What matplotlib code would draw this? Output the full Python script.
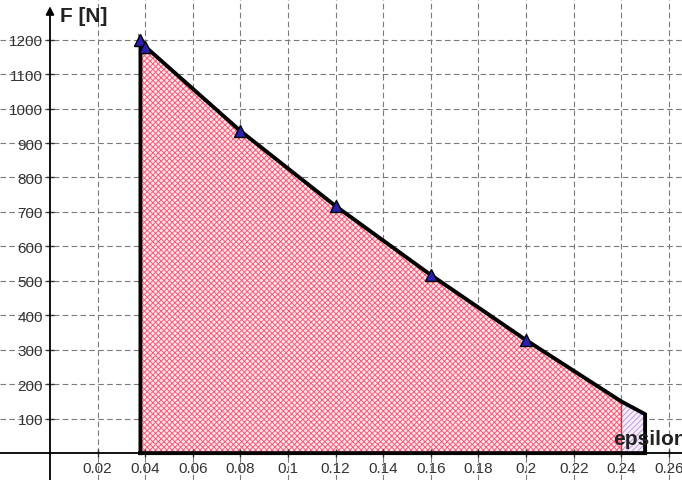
import matplotlib
matplotlib.use("Agg")
import matplotlib.pyplot as plt
import numpy as np

plt.rcParams['font.family'] = ['Liberation Sans', 'DejaVu Sans']
plt.rcParams['hatch.linewidth'] = 0.7

# measured points (strain, force)
eps_pts = [0.038, 0.04, 0.08, 0.12, 0.16, 0.2]
F_pts = [1200, 1180, 935, 717, 517, 328]
# outline curve continues to rupture
eps_curve = [0.038, 0.04, 0.08, 0.12, 0.16, 0.2, 0.24, 0.25]
F_curve = [1200, 1180, 935, 717, 517, 328, 150, 113]
eps_split = 0.24

xticks = [0.02, 0.04, 0.06, 0.08, 0.1, 0.12, 0.14, 0.16, 0.18, 0.2, 0.22, 0.24, 0.26]
xtick_labels = ["0.02", "0.04", "0.06", "0.08", "0.1", "0.12", "0.14", "0.16", "0.18", "0.2", "0.22", "0.24", "0.26"]
yticks = [100, 200, 300, 400, 500, 600, 700, 800, 900, 1000, 1100, 1200]

fig = plt.figure(figsize=(6.82, 4.81), dpi=100)
ax = fig.add_axes([0, 0, 1, 1])
ax.set_xlim(-0.021, 0.2655)
ax.set_ylim(-78, 1318)

# grid
for xv in xticks:
    ax.axvline(xv, color='#7a7a7a', lw=0.8, ls=(0, (5, 3)), zorder=0.5)
for yv in yticks:
    ax.axhline(yv, color='#7a7a7a', lw=0.8, ls=(0, (5, 3)), zorder=0.5)

ex = np.array(eps_curve)
fy = np.array(F_curve)
m1 = ex <= eps_split + 1e-9
ax.fill_between(ex[m1], 0, fy[m1], facecolor='#ffe6ea', edgecolor='#ff5a78', hatch='xxxxxx', lw=0, zorder=1)
m2 = ex >= eps_split - 1e-9
ax.fill_between(ex[m2], 0, fy[m2], facecolor='#f6eefb', edgecolor='#c39ae0', hatch='//////', lw=0, zorder=1)
ax.plot([eps_split, eps_split], [0, F_curve[eps_curve.index(eps_split)]], color='#ff2020', lw=1, zorder=2)

# outline
ox = [eps_curve[0]] + eps_curve + [eps_curve[-1], eps_curve[0]]
oy = [0] + F_curve + [0, 0]
ax.plot(ox, oy, color='black', lw=2.8, solid_joinstyle='miter', zorder=3)

ax.plot(eps_pts, F_pts, ls='none', marker='^', ms=9, mfc='#2a1fb0', mec='black', mew=1, zorder=4)

# axes
for s in ['top', 'right']:
    ax.spines[s].set_visible(False)
ax.spines['left'].set_position(('data', 0))
ax.spines['bottom'].set_position(('data', 0))
ax.spines['left'].set_bounds(-78, 1290)
ax.spines['left'].set_linewidth(1.3)
ax.spines['bottom'].set_linewidth(1.3)
ax.annotate('', xy=(0, 1305), xytext=(0, 1270),
            arrowprops=dict(arrowstyle='-|>', color='black', lw=1.3, mutation_scale=12))

ax.set_xticks(xticks)
ax.set_xticklabels(xtick_labels)
ax.set_yticks(yticks)
ax.tick_params(axis='both', direction='inout', length=6, width=1, labelsize=11,
               colors='#333333', labelcolor='#333333')
ax.tick_params(axis='x', pad=3)
ax.tick_params(axis='y', pad=2)

ax.text(0.0042, 1270, 'F [N]', fontsize=15, fontweight='bold', va='center', ha='left', color='#222222')
ax.text(0.2366, 42, 'epsilon', fontsize=15, fontweight='bold', va='center', ha='left',
        color='#222222', zorder=5)

fig.savefig('out.png', dpi=100)
